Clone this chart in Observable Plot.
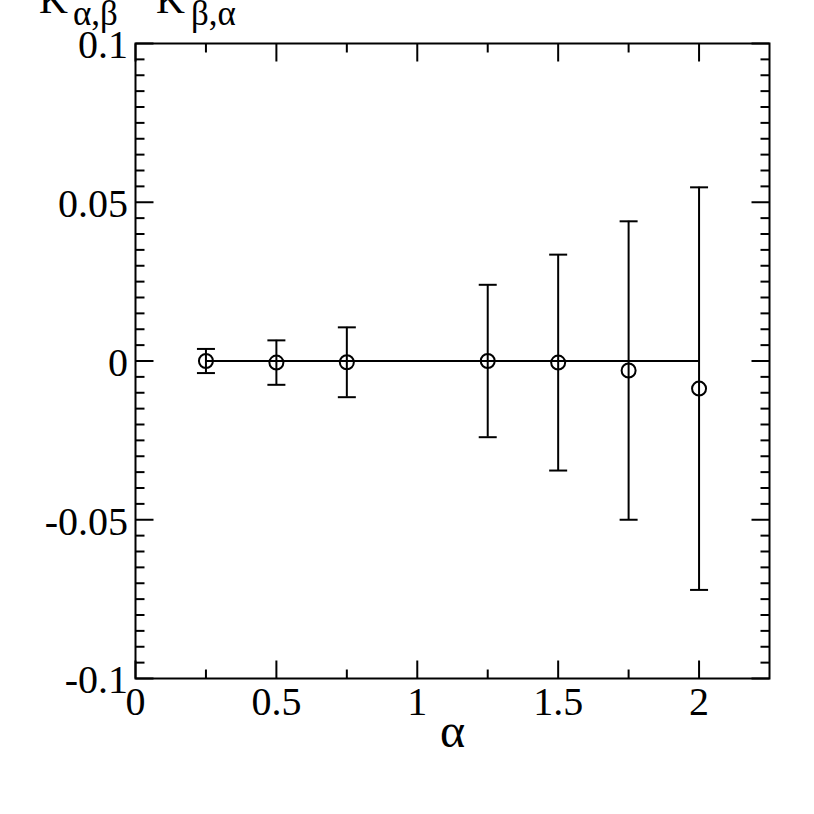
<!DOCTYPE html>
<html><head><meta charset="utf-8">
<script src="https://cdn.jsdelivr.net/npm/d3@7"></script>
<script src="https://cdn.jsdelivr.net/npm/@observablehq/plot@0.6"></script>
<style>html,body{margin:0;padding:0;background:#fff;} svg{display:block}</style>
</head><body><div id="chart"></div>
<script>
// ---- data ----
const alphas = [0.25, 0.5, 0.75, 1.25, 1.5, 1.75, 2.0];
const diffs  = [0.0, -0.0005, -0.0004, 0.0, -0.0005, -0.003, -0.0087];
const errors = [0.0038, 0.007, 0.011, 0.024, 0.034, 0.047, 0.0634];
const refLineX = [0.25, 2.0];
const refLineY = [0, 0];
const xMajorTicks = [0, 0.5, 1, 1.5, 2];
const xMinorTicks = [0.25, 0.75, 1.25, 1.75];
const xTickLabels = ["0", "0.5", "1", "1.5", "2"];
const yMajorTicks = [-0.1, -0.05, 0, 0.05, 0.1];
const yTickLabels = ["-0.1", "-0.05", "0", "0.05", "0.1"];
const yMinorTicks = d3.range(-20, 21).filter(i => i % 10 !== 0).map(i => i * 0.005);
const xLabel = "α";

const points = alphas.map((a, i) => ({x: a, y: diffs[i], e: errors[i]}));
const refLine = refLineX.map((x, i) => ({x, y: refLineY[i]}));

const FONT = "'Liberation Serif', 'Times New Roman', serif";
const seg = (x1, y1, x2, y2) => ({draw(ctx) { ctx.moveTo(x1, y1); ctx.lineTo(x2, y2); }});
const MAJ = 18, MIN = 9;
const tickStyle = {fill: "none", stroke: "black", strokeWidth: 2};

const chart = Plot.plot({
  width: 814, height: 814,
  marginLeft: 135, marginRight: 45, marginTop: 43, marginBottom: 136,
  x: {domain: [0, 2.25], axis: null},
  y: {domain: [-0.1, 0.1], axis: null},
  style: {background: "white", fontFamily: FONT},
  marks: [
    // ticks (inward, all four sides)
    Plot.dot(xMajorTicks, {x: d => d, y: () => -0.1, symbol: seg(0, 0, 0, -MAJ), ...tickStyle}),
    Plot.dot(xMinorTicks, {x: d => d, y: () => -0.1, symbol: seg(0, 0, 0, -MIN), ...tickStyle}),
    Plot.dot(xMajorTicks, {x: d => d, y: () => 0.1, symbol: seg(0, 0, 0, MAJ), ...tickStyle}),
    Plot.dot(xMinorTicks, {x: d => d, y: () => 0.1, symbol: seg(0, 0, 0, MIN), ...tickStyle}),
    Plot.dot(yMajorTicks, {x: () => 0, y: d => d, symbol: seg(0, 0, MAJ, 0), ...tickStyle}),
    Plot.dot(yMinorTicks, {x: () => 0, y: d => d, symbol: seg(0, 0, MIN, 0), ...tickStyle}),
    Plot.dot(yMajorTicks, {x: () => 2.25, y: d => d, symbol: seg(0, 0, -MAJ, 0), ...tickStyle}),
    Plot.dot(yMinorTicks, {x: () => 2.25, y: d => d, symbol: seg(0, 0, -MIN, 0), ...tickStyle}),
    // tick labels
    Plot.text(xMajorTicks, {x: d => d, y: () => -0.1, text: (d, i) => xTickLabels[i], dy: 24, lineAnchor: "middle", fontSize: 40, fill: "black"}),
    Plot.text(yMajorTicks, {x: () => 0, y: d => d, text: (d, i) => yTickLabels[i], dx: -7.5, dy: 2, lineAnchor: "middle", textAnchor: "end", fontSize: 40, fill: "black"}),
    Plot.text([xLabel], {frameAnchor: "bottom", text: d => d, dy: 53, lineAnchor: "middle", fontSize: 48, fill: "black"}),
    // data
    Plot.line(refLine, {x: "x", y: "y", stroke: "black", strokeWidth: 2}),
    Plot.ruleX(points, {x: "x", y1: d => d.y - d.e, y2: d => d.y + d.e, stroke: "black", strokeWidth: 2}),
    Plot.dot(points, {x: "x", y: d => d.y - d.e, symbol: seg(-9, 0, 9, 0), ...tickStyle}),
    Plot.dot(points, {x: "x", y: d => d.y + d.e, symbol: seg(-9, 0, 9, 0), ...tickStyle}),
    Plot.dot(points, {x: "x", y: "y", r: 7, fill: "none", stroke: "black", strokeWidth: 2}),
    Plot.frame({stroke: "black", strokeWidth: 2})
  ]
});
document.getElementById("chart").appendChild(chart);

// y-axis title at top-left: K_{α,β} - K_{β,α}
const svg = d3.select(chart);
const title = svg.append("g").attr("font-family", FONT).attr("fill", "black").attr("text-anchor", "start");
title.append("text").attr("x", 39).attr("y", 13).attr("font-size", 40).text("K");
title.append("text").attr("x", 73).attr("y", 25).attr("font-size", 35).text("α,β");
title.append("text").attr("x", 133).attr("y", -8).attr("font-size", 40).text("-");
title.append("text").attr("x", 156).attr("y", 13).attr("font-size", 40).text("K");
title.append("text").attr("x", 191).attr("y", 25).attr("font-size", 35).text("β,α");
</script>
</body></html>
